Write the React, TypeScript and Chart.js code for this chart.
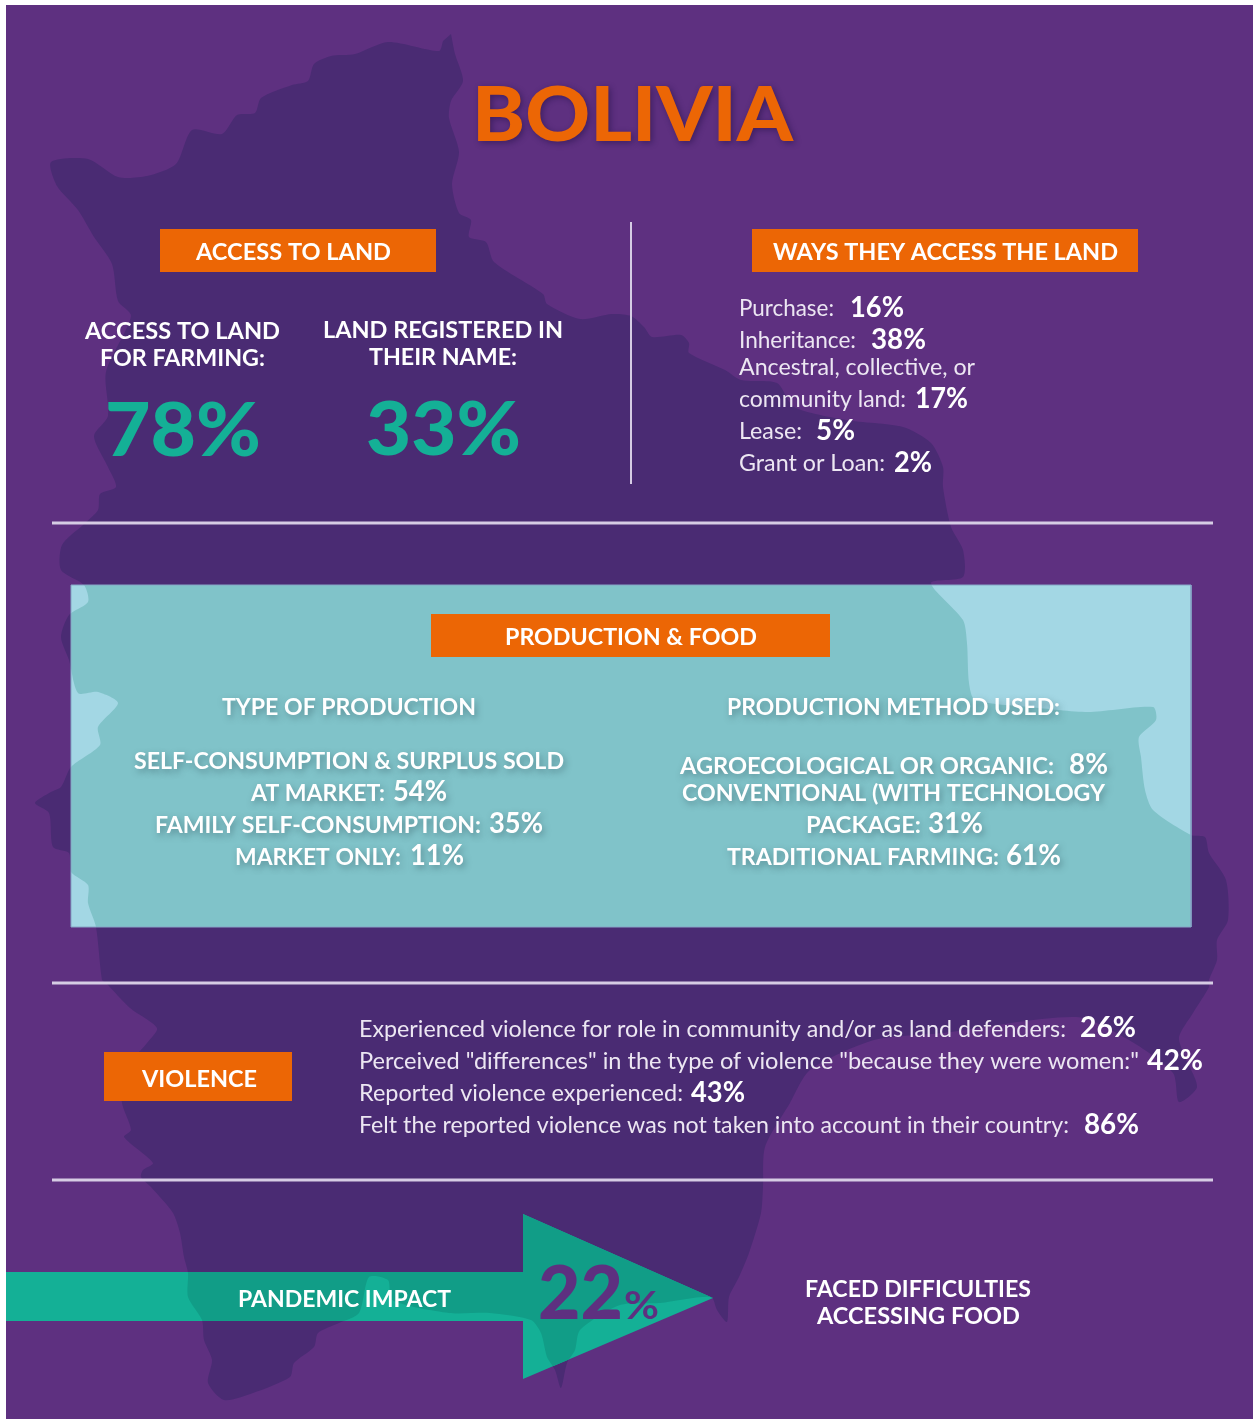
import React, { useEffect, useRef } from "react";
import { Chart, registerables } from "chart.js";

Chart.register(...registerables);

const WIDTH = 1253;
const HEIGHT = 1419;

// ---------- values ----------
const countryName = "BOLIVIA";
const headings = ["ACCESS TO LAND", "WAYS THEY ACCESS THE LAND", "PRODUCTION & FOOD", "VIOLENCE"];
const landLabels = ["ACCESS TO LAND", "FOR FARMING:", "LAND REGISTERED IN", "THEIR NAME:"];
const landValues = [78, 33];
const waysLabels = ["Purchase:", "Inheritance:", "community land:", "Lease:", "Grant or Loan:"];
const waysValues = [16, 38, 17, 5, 2];
const waysExtraLine = "Ancestral, collective, or";
const productionTitles = ["TYPE OF PRODUCTION", "PRODUCTION METHOD USED:"];
const typeLabels = ["AT MARKET:", "FAMILY SELF-CONSUMPTION:", "MARKET ONLY:"];
const typeValues = [54, 35, 11];
const typeExtraLine = "SELF-CONSUMPTION & SURPLUS SOLD";
const methodLabels = ["AGROECOLOGICAL OR ORGANIC:", "PACKAGE:", "TRADITIONAL FARMING:"];
const methodValues = [8, 31, 61];
const methodExtraLine = "CONVENTIONAL (WITH TECHNOLOGY";
const violenceLabels = [
  "Experienced violence for role in community and/or as land defenders:",
  'Perceived "differences" in the type of violence "because they were women:"',
  "Reported violence experienced:",
  "Felt the reported violence was not taken into account in their country:",
];
const violenceValues = [26, 42, 43, 86];
const pandemicLabel = "PANDEMIC IMPACT";
const pandemicValue = 22;
const pandemicCaption = ["FACED DIFFICULTIES", "ACCESSING FOOD"];

// ---------- shapes, in the chart's own 0..1253 / 0..1419 units ----------
const mapX = [451,455,463,451,449,459,452,459,471,469,486,494,543,547,580,612,631,644,652,681,689,689,725,741,777,794,846,903,931,943,943,951,963,963,931,963,967,969,975,1030,1088,1153,1156,1139,1141,1145,1153,1191,1205,1209,1226,1228,1217,1217,1209,1209,1193,1179,1185,1197,1179,1173,1129,1076,943,874,810,790,765,763,761,749,739,729,727,717,711,660,620,580,575,567,561,555,547,541,531,490,449,392,388,369,359,339,318,314,294,290,253,224,208,212,204,202,188,188,184,180,173,151,141,143,153,124,131,122,122,147,157,130,106,102,96,88,88,71,69,53,49,35,51,61,71,100,98,118,98,78,69,61,69,88,84,61,62,84,98,100,116,108,94,108,106,131,118,112,94,78,57,51,88,118,147,176,192,222,237,255,261,292,308,314,331,355,388,439,443];
const mapY = [34,54,81,101,118,152,184,213,220,237,242,262,294,304,319,314,316,327,337,335,343,353,370,380,383,407,420,427,443,467,487,527,550,577,583,620,643,683,700,707,712,707,720,737,757,790,810,835,837,853,880,920,940,960,980,987,1013,1037,1057,1087,1102,1073,1040,1017,1033,1040,1070,1103,1147,1187,1213,1253,1277,1297,1322,1310,1297,1303,1305,1330,1350,1363,1388,1370,1357,1333,1320,1313,1313,1300,1280,1277,1313,1323,1333,1347,1363,1377,1393,1400,1383,1360,1340,1320,1297,1273,1257,1233,1213,1187,1177,1170,1163,1137,1130,1103,1073,1043,1028,1008,983,980,927,903,885,872,853,847,813,803,792,787,767,745,727,703,692,693,660,637,615,602,585,570,545,524,510,494,487,467,436,416,372,316,301,264,237,210,186,162,159,177,176,164,130,134,115,113,98,85,81,64,56,54,42,51,41];
const backgroundX = [6, 1253, 1253, 6];
const backgroundY = [5, 5, 1419, 1419];
const panelX = [71, 1191, 1191, 71];
const panelY = [585, 585, 927, 927];
const arrowX = [6, 523, 523, 713, 523, 523, 6];
const arrowY = [1272, 1272, 1214, 1298, 1379, 1321, 1321];
const bannerX = [[160, 436], [752, 1138], [431, 830], [104, 292]];
const bannerY = [[229, 272], [229, 272], [614, 657], [1052, 1101]];
const dividerX = [[52, 1213], [52, 1213], [52, 1213], [631, 631]];
const dividerY = [[523, 523], [983, 983], [1180, 1180], [222, 484]];

// ---------- colours ----------
const PURPLE = "#5e3080";
const PURPLE_DARK = "#4a2b73";
const ORANGE = "#ec6605";
const TEAL = "#14b096";
const TEAL_DARK = "#119d87";
const PANEL = "#a3d7e4";
const PANEL_DARK = "#80c3c9";
const WHITE = "#ffffff";
const SOFT = "#ece6f2";
const LINE = "#d6cce4";

const pct = (v: number) => `${v}%`;
const xy = (xs: number[], ys: number[]) => xs.map((x, i) => ({ x, y: ys[i] }));

type Run = { t: string; x0: number; x1: number; y: number; font: string; color: string; glow?: number };

const BLACK = (s: number) => `900 ${s}px Lato`;
const BOLD = (s: number) => `700 ${s}px Lato`;
const BODY = (s: number) => `400 ${s}px Lato`;

const runs: Run[] = [
  { t: countryName, x0: 472, x1: 793, y: 141, font: BLACK(77), color: ORANGE, glow: 2 },
  { t: headings[0], x0: 196, x1: 391, y: 260, font: BOLD(23), color: WHITE },
  { t: headings[1], x0: 773, x1: 1118, y: 260, font: BOLD(23), color: WHITE },
  { t: headings[2], x0: 505, x1: 757, y: 645, font: BOLD(23), color: WHITE },
  { t: headings[3], x0: 142, x1: 257, y: 1087, font: BOLD(23), color: WHITE },

  { t: landLabels[0], x0: 85, x1: 280, y: 339, font: BOLD(23), color: WHITE },
  { t: landLabels[1], x0: 100, x1: 265, y: 366, font: BOLD(23), color: WHITE },
  { t: landLabels[2], x0: 323, x1: 563, y: 338, font: BOLD(23), color: WHITE },
  { t: landLabels[3], x0: 369, x1: 517, y: 365, font: BOLD(23), color: WHITE },
  { t: pct(landValues[0]), x0: 105, x1: 261, y: 456, font: BLACK(74), color: TEAL },
  { t: pct(landValues[1]), x0: 366, x1: 521, y: 455, font: BLACK(74), color: TEAL },

  { t: waysLabels[0], x0: 739, x1: 834, y: 316, font: BODY(23), color: SOFT },
  { t: pct(waysValues[0]), x0: 850, x1: 904, y: 317, font: BOLD(28), color: WHITE },
  { t: waysLabels[1], x0: 739, x1: 856, y: 348, font: BODY(23), color: SOFT },
  { t: pct(waysValues[1]), x0: 871, x1: 926, y: 349, font: BOLD(28), color: WHITE },
  { t: waysExtraLine, x0: 739, x1: 975, y: 375, font: BODY(23), color: SOFT },
  { t: waysLabels[2], x0: 739, x1: 906, y: 407, font: BODY(23), color: SOFT },
  { t: pct(waysValues[2]), x0: 915, x1: 968, y: 408, font: BOLD(28), color: WHITE },
  { t: waysLabels[3], x0: 739, x1: 802, y: 439, font: BODY(23), color: SOFT },
  { t: pct(waysValues[3]), x0: 816, x1: 855, y: 440, font: BOLD(28), color: WHITE },
  { t: waysLabels[4], x0: 739, x1: 885, y: 471, font: BODY(23), color: SOFT },
  { t: pct(waysValues[4]), x0: 894, x1: 932, y: 472, font: BOLD(28), color: WHITE },

  { t: productionTitles[0], x0: 222, x1: 476, y: 715, font: BOLD(23), color: WHITE, glow: 1 },
  { t: typeExtraLine, x0: 134, x1: 564, y: 769, font: BOLD(23), color: WHITE, glow: 1 },
  { t: typeLabels[0], x0: 251, x1: 385, y: 801, font: BOLD(23), color: WHITE, glow: 1 },
  { t: pct(typeValues[0]), x0: 393, x1: 447, y: 801, font: BOLD(28), color: WHITE, glow: 1 },
  { t: typeLabels[1], x0: 155, x1: 481, y: 833, font: BOLD(23), color: WHITE, glow: 1 },
  { t: pct(typeValues[1]), x0: 489, x1: 543, y: 833, font: BOLD(28), color: WHITE, glow: 1 },
  { t: typeLabels[2], x0: 235, x1: 401, y: 865, font: BOLD(23), color: WHITE, glow: 1 },
  { t: pct(typeValues[2]), x0: 410, x1: 464, y: 865, font: BOLD(28), color: WHITE, glow: 1 },

  { t: productionTitles[1], x0: 727, x1: 1060, y: 715, font: BOLD(23), color: WHITE, glow: 1 },
  { t: methodLabels[0], x0: 680, x1: 1054, y: 774, font: BOLD(23), color: WHITE, glow: 1 },
  { t: pct(methodValues[0]), x0: 1069, x1: 1108, y: 774, font: BOLD(28), color: WHITE, glow: 1 },
  { t: methodExtraLine, x0: 682, x1: 1105, y: 801, font: BOLD(23), color: WHITE, glow: 1 },
  { t: methodLabels[1], x0: 806, x1: 921, y: 833, font: BOLD(23), color: WHITE, glow: 1 },
  { t: pct(methodValues[1]), x0: 928, x1: 983, y: 833, font: BOLD(28), color: WHITE, glow: 1 },
  { t: methodLabels[2], x0: 727, x1: 999, y: 865, font: BOLD(23), color: WHITE, glow: 1 },
  { t: pct(methodValues[2]), x0: 1006, x1: 1061, y: 865, font: BOLD(28), color: WHITE, glow: 1 },

  { t: violenceLabels[0], x0: 359, x1: 1066, y: 1037, font: BODY(23), color: SOFT },
  { t: pct(violenceValues[0]), x0: 1080, x1: 1136, y: 1037, font: BOLD(28), color: WHITE },
  { t: violenceLabels[1], x0: 359, x1: 1139, y: 1069, font: BODY(23), color: SOFT },
  { t: pct(violenceValues[1]), x0: 1147, x1: 1203, y: 1070, font: BOLD(28), color: WHITE },
  { t: violenceLabels[2], x0: 359, x1: 683, y: 1101, font: BODY(23), color: SOFT },
  { t: pct(violenceValues[2]), x0: 691, x1: 745, y: 1102, font: BOLD(28), color: WHITE },
  { t: violenceLabels[3], x0: 359, x1: 1069, y: 1133, font: BODY(23), color: SOFT },
  { t: pct(violenceValues[3]), x0: 1084, x1: 1139, y: 1134, font: BOLD(28), color: WHITE },

  { t: pandemicLabel, x0: 238, x1: 451, y: 1307, font: BOLD(23), color: WHITE },
  { t: String(pandemicValue), x0: 538, x1: 623, y: 1319, font: BLACK(75), color: PURPLE },
  { t: "%", x0: 624, x1: 659, y: 1319, font: BOLD(38), color: PURPLE },
  { t: pandemicCaption[0], x0: 805, x1: 1031, y: 1297, font: BOLD(23), color: WHITE },
  { t: pandemicCaption[1], x0: 817, x1: 1020, y: 1324, font: BOLD(23), color: WHITE },
];

const shapeSet = (label: string, data: { x: number; y: number }[], color: string, order: number, tension = 0) => ({
  label,
  data,
  showLine: true,
  pointRadius: 0,
  borderWidth: 0,
  borderColor: color,
  backgroundColor: color,
  fill: "shape",
  tension,
  order,
});

const lineSet = (label: string, xs: number[], ys: number[], order: number, width: number) => ({
  label,
  data: xy(xs, ys),
  showLine: true,
  pointRadius: 0,
  borderWidth: width,
  borderColor: LINE,
  backgroundColor: LINE,
  fill: false,
  order,
});

const clippedOverlay = (chart: any, shape: string, color: string) => {
  const { ctx } = chart;
  const mapIndex = chart.data.datasets.findIndex((d: any) => d.label === "map");
  const shapeIndex = chart.data.datasets.findIndex((d: any) => d.label === shape);
  const mapLine = chart.getDatasetMeta(mapIndex).dataset;
  const shapeLine = chart.getDatasetMeta(shapeIndex).dataset;
  ctx.save();
  ctx.beginPath();
  shapeLine.path(ctx);
  ctx.closePath();
  ctx.clip();
  ctx.beginPath();
  mapLine.path(ctx);
  ctx.closePath();
  ctx.fillStyle = color;
  ctx.fill();
  ctx.restore();
};

const infographicPlugin = {
  id: "infographic",
  afterDatasetsDraw(chart: any) {
    const { ctx, scales } = chart;
    clippedOverlay(chart, "panel", PANEL_DARK);
    clippedOverlay(chart, "arrow", TEAL_DARK);

    // thin edge around the teal panel
    const panelIndex = chart.data.datasets.findIndex((d: any) => d.label === "panel");
    ctx.save();
    ctx.beginPath();
    chart.getDatasetMeta(panelIndex).dataset.path(ctx);
    ctx.closePath();
    ctx.strokeStyle = "#86a6c6";
    ctx.lineWidth = 1;
    ctx.stroke();
    ctx.restore();

    // orange heading banners go above the panel
    bannerX.forEach((bx, i) => {
      const x0 = scales.x.getPixelForValue(bx[0]);
      const x1 = scales.x.getPixelForValue(bx[1]);
      const y0 = scales.y.getPixelForValue(bannerY[i][0]);
      const y1 = scales.y.getPixelForValue(bannerY[i][1]);
      ctx.fillStyle = ORANGE;
      ctx.fillRect(x0, y0, x1 - x0, y1 - y0);
    });

    runs.forEach((r) => {
      ctx.save();
      ctx.font = r.font;
      ctx.textAlign = "left";
      ctx.textBaseline = "alphabetic";
      const natural = ctx.measureText(r.t).width;
      const x0 = scales.x.getPixelForValue(r.x0);
      const x1 = scales.x.getPixelForValue(r.x1);
      const y = scales.y.getPixelForValue(r.y);
      if (r.glow === 1) {
        ctx.shadowColor = "rgba(50,85,95,0.5)";
        ctx.shadowBlur = 6;
        ctx.shadowOffsetX = 2;
        ctx.shadowOffsetY = 3;
      } else if (r.glow === 2) {
        ctx.shadowColor = "rgba(25,10,60,0.45)";
        ctx.shadowBlur = 6;
        ctx.shadowOffsetX = 2;
        ctx.shadowOffsetY = 2;
      }
      ctx.translate(x0, y);
      ctx.scale((x1 - x0) / natural, 1);
      ctx.fillStyle = r.color;
      ctx.fillText(r.t, 0, 0);
      ctx.restore();
    });
  },
};

export default function App() {
  const ref = useRef<HTMLCanvasElement | null>(null);

  useEffect(() => {
    document.body.style.margin = "0";
    document.body.style.background = "#ffffff";
    if (!ref.current) return;
    const chart = new Chart(ref.current, {
      type: "scatter",
      data: {
        datasets: [
          shapeSet("background", xy(backgroundX, backgroundY), PURPLE, 50),
          shapeSet("map", xy(mapX, mapY), PURPLE_DARK, 40, 0.25),
          lineSet("divider-1", dividerX[0], dividerY[0], 30, 3),
          lineSet("divider-2", dividerX[1], dividerY[1], 30, 3),
          lineSet("divider-3", dividerX[2], dividerY[2], 30, 3),
          lineSet("divider-4", dividerX[3], dividerY[3], 30, 2),
          shapeSet("panel", xy(panelX, panelY), PANEL, 20),
          shapeSet("arrow", xy(arrowX, arrowY), TEAL, 20),
        ] as any,
      },
      options: {
        animation: false,
        responsive: false,
        maintainAspectRatio: false,
        layout: { padding: 0 },
        events: [],
        scales: {
          x: { type: "linear", min: 0, max: WIDTH, display: false },
          y: { type: "linear", min: 0, max: HEIGHT, reverse: true, display: false },
        },
        plugins: { legend: { display: false }, tooltip: { enabled: false }, title: { display: false } },
      },
      plugins: [infographicPlugin],
    });
    return () => chart.destroy();
  }, []);

  return <canvas ref={ref} width={WIDTH} height={HEIGHT} style={{ display: "block" }} />;
}
